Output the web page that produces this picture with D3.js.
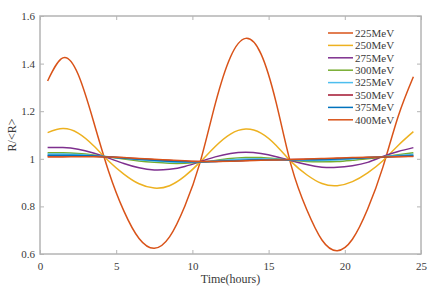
<!DOCTYPE html>
<html><head><meta charset="utf-8">
<script src="https://cdn.jsdelivr.net/npm/d3@7"></script>
<style>body{margin:0;background:#fff}svg{display:block}</style>
</head><body>
<svg id="c" width="436" height="296"></svg>
<script>
const hours = [0.5,1.5,2.5,3.5,4.5,5.5,6.5,7.5,8.5,9.5,10.5,11.5,12.5,13.5,14.5,15.5,16.5,17.5,18.5,19.5,20.5,21.5,22.5,23.5,24.5];
const seriesNames = ["225MeV","250MeV","275MeV","300MeV","325MeV","350MeV","375MeV","400MeV"];
const seriesColors = ["#D95319","#EDB120","#7E2F8E","#77AC30","#4DBEEE","#A2142F","#0072BD","#D95319"];
const r225 = [1.327,1.424,1.355,1.160,0.948,0.781,0.665,0.624,0.672,0.801,0.984,1.231,1.428,1.506,1.441,1.235,0.968,0.787,0.659,0.614,0.662,0.789,0.965,1.178,1.345];
const r250 = [1.110,1.127,1.108,1.056,0.991,0.936,0.895,0.877,0.887,0.927,0.986,1.052,1.104,1.125,1.108,1.056,0.987,0.933,0.896,0.887,0.904,0.941,0.992,1.056,1.114];
const r275 = [1.047,1.047,1.040,1.024,1.003,0.980,0.962,0.953,0.956,0.968,0.988,1.008,1.022,1.027,1.022,1.009,0.992,0.976,0.965,0.964,0.971,0.985,1.010,1.031,1.047];
const r300 = [1.025,1.025,1.022,1.016,1.008,0.999,0.991,0.985,0.981,0.981,0.985,0.993,1.001,1.005,1.005,1.000,0.994,0.989,0.988,0.989,0.994,1.000,1.008,1.017,1.025];
const r325 = [1.020,1.020,1.018,1.014,1.009,1.002,0.996,0.991,0.987,0.986,0.987,0.991,0.996,0.999,1.000,0.998,0.995,0.993,0.993,0.995,0.999,1.004,1.009,1.014,1.019];
const r350 = [1.012,1.012,1.012,1.011,1.008,1.004,1.000,0.996,0.993,0.990,0.989,0.989,0.991,0.993,0.995,0.996,0.997,0.998,0.999,1.001,1.003,1.005,1.007,1.010,1.012];
const r375 = [1.015,1.015,1.014,1.012,1.008,1.003,0.998,0.994,0.990,0.988,0.988,0.989,0.992,0.994,0.996,0.996,0.996,0.996,0.997,0.999,1.002,1.005,1.008,1.011,1.014];
const r400 = [1.008,1.008,1.009,1.009,1.008,1.005,1.001,0.998,0.995,0.992,0.989,0.989,0.990,0.992,0.994,0.995,0.997,0.999,1.001,1.003,1.005,1.007,1.008,1.009,1.010];
const seriesValues = [r225,r250,r275,r300,r325,r350,r375,r400];
const xTicks = [0,5,10,15,20,25];
const yTicks = [0.6,0.8,1.0,1.2,1.4,1.6];
const xTitle = "Time(hours)";
const yTitle = "R/<R>";

const svg = d3.select("#c");
const L = 40, R = 421, T = 16, B = 254;
const x = d3.scaleLinear().domain([0,25]).range([L,R]);
const y = d3.scaleLinear().domain([0.6,1.6]).range([B,T]);
const axisColor = "#b4b4b4", textColor = "#3a3a3a";
const font = "'Liberation Serif','Times New Roman',serif";

const line = d3.line().x((d,i)=>x(hours[i])).y(d=>y(d)).curve(d3.curveNatural);
const g = svg.append("g");
seriesValues.forEach((vals,k)=>{
  g.append("path").attr("d", line(vals)).attr("fill","none")
   .attr("stroke", seriesColors[k]).attr("stroke-width",1.5);
});

function styleAxis(sel){
  sel.attr("font-family",font).attr("font-size",11);
  sel.select(".domain").remove();
  sel.selectAll(".tick line").attr("stroke",axisColor).attr("stroke-width",1);
  sel.selectAll(".tick text").attr("fill",textColor);
}
const fmt = d => d3.format("~g")(d);
svg.append("g").attr("transform",`translate(0,${B})`)
  .call(d3.axisBottom(x).tickValues(xTicks).tickSize(-4).tickPadding(8).tickFormat(fmt)).call(styleAxis);
svg.append("g").attr("transform",`translate(0,${T})`)
  .call(d3.axisTop(x).tickValues(xTicks).tickSize(-4).tickFormat("")).call(styleAxis);
svg.append("g").attr("transform",`translate(${L},0)`)
  .call(d3.axisLeft(y).tickValues(yTicks).tickSize(-4).tickPadding(5).tickFormat(fmt)).call(styleAxis);
svg.append("g").attr("transform",`translate(${R},0)`)
  .call(d3.axisRight(y).tickValues(yTicks).tickSize(-4).tickFormat("")).call(styleAxis);

svg.append("rect").attr("x",L).attr("y",T).attr("width",R-L).attr("height",B-T)
  .attr("fill","none").attr("stroke",axisColor).attr("stroke-width",1.5);

svg.append("text").attr("x",(L+R)/2).attr("y",283).attr("text-anchor","middle")
  .attr("fill",textColor).attr("font-family",font).attr("font-size",12).text(xTitle);
svg.append("text").attr("transform",`translate(16,${(T+B)/2}) rotate(-90)`).attr("text-anchor","middle")
  .attr("fill",textColor).attr("font-family",font).attr("font-size",12).text(yTitle);

const leg = svg.append("g");
seriesNames.forEach((n,k)=>{
  const yy = 33 + k*12.4;
  leg.append("line").attr("x1",328).attr("x2",353).attr("y1",yy).attr("y2",yy)
    .attr("stroke",seriesColors[k]).attr("stroke-width",1.5);
  leg.append("text").attr("x",355).attr("y",yy+3.8).attr("fill",textColor)
    .attr("font-family",font).attr("font-size",11).text(n);
});
</script>
</body></html>
